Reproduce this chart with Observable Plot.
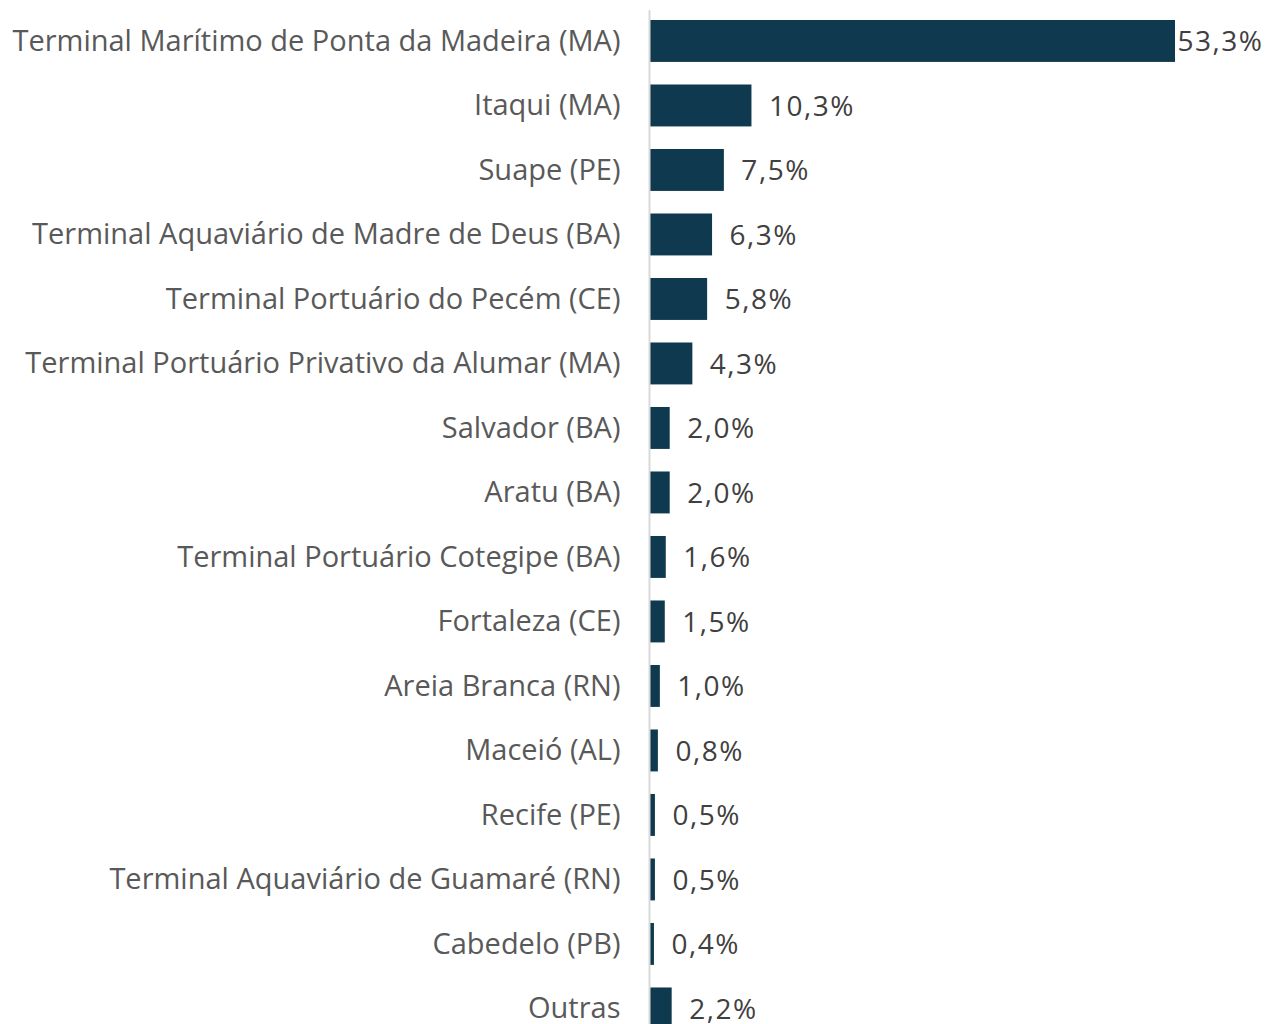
<!DOCTYPE html>
<html>
<head>
<meta charset="utf-8">
<script src="https://cdn.jsdelivr.net/npm/d3@7"></script>
<script src="https://cdn.jsdelivr.net/npm/@observablehq/plot@0.6"></script>
<style>
  body { margin: 0; background: #fff; }
  #chart svg { display: block; }
  .vals text { letter-spacing: 1.5px; }
</style>
</head>
<body>
<div id="chart"></div>
<script>
const categories = [
  "Terminal Marítimo de Ponta da Madeira (MA)",
  "Itaqui (MA)",
  "Suape (PE)",
  "Terminal Aquaviário de Madre de Deus (BA)",
  "Terminal Portuário do Pecém (CE)",
  "Terminal Portuário Privativo da Alumar (MA)",
  "Salvador (BA)",
  "Aratu (BA)",
  "Terminal Portuário Cotegipe (BA)",
  "Fortaleza (CE)",
  "Areia Branca (RN)",
  "Maceió (AL)",
  "Recife (PE)",
  "Terminal Aquaviário de Guamaré (RN)",
  "Cabedelo (PB)",
  "Outras"
];
const values = [53.3, 10.3, 7.5, 6.3, 5.8, 4.3, 2.0, 2.0, 1.6, 1.5, 1.0, 0.8, 0.5, 0.5, 0.4, 2.2];

const data = categories.map((c, i) => ({category: c, value: values[i]}));
const fmt = v => d3.format(".1f")(v).replace(".", ",") + "%";
const maxV = d3.max(values);

const chart = Plot.plot({
  width: 1265,
  height: 1024,
  marginLeft: 650,
  marginRight: 90,
  marginTop: 10,
  marginBottom: 0,
  style: {background: "#fff"},
  x: {domain: [0, maxV], axis: null},
  y: {domain: categories, range: [20, 1029.4], paddingInner: 0.35, paddingOuter: 0, round: false, label: null},
  marks: [
    Plot.barX(data, {x: "value", y: "category", fill: "#0e394f"}),
    Plot.ruleX([0], {stroke: "#d9d9d9", strokeWidth: 2, dx: -1}),
    Plot.axisY({
      tickSize: 0,
      tickPadding: 30,
      fontSize: 29,
      fontFamily: "Open Sans",
      color: "#595959",
      label: null
    }),
    Plot.text(data.filter(d => d.value === maxV), {
      x: "value", y: "category", text: d => fmt(d.value),
      textAnchor: "start", dx: 2, dy: 1, className: "vals",
      fontSize: 28, fontFamily: "Open Sans", fill: "#404040"
    }),
    Plot.text(data.filter(d => d.value !== maxV), {
      x: "value", y: "category", text: d => fmt(d.value),
      textAnchor: "start", dx: 17, dy: 1, className: "vals",
      fontSize: 28, fontFamily: "Open Sans", fill: "#404040"
    })
  ]
});
document.getElementById("chart").appendChild(chart);
</script>
</body>
</html>
